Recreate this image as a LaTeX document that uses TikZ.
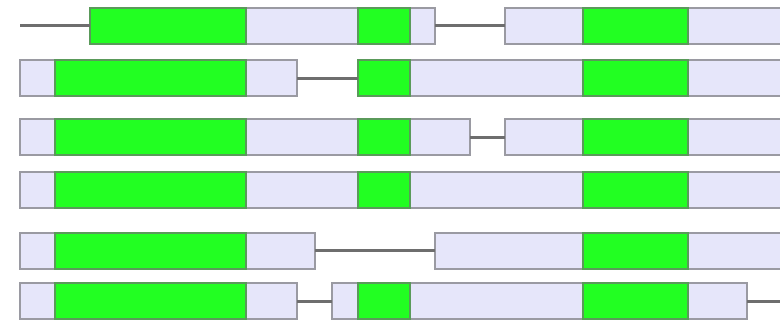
\documentclass[tikz,border=0pt]{standalone}
\usepackage{xcolor}

\definecolor{exongreen}{HTML}{22FF22}
\definecolor{exonedge}{HTML}{5A9A5A}
\definecolor{utrfill}{HTML}{E6E6FA}
\definecolor{utredge}{HTML}{9A9AA2}
\definecolor{introngray}{HTML}{6E6E6E}

\begin{document}
\begin{tikzpicture}[
  x=1pt, y=-1pt,
  box/.style={rectangle,anchor=west,inner sep=0pt,outer sep=0pt,minimum height=36pt,line width=2pt},
  cds/.style={box,fill=exongreen,draw=exonedge},
  utr/.style={box,fill=utrfill,draw=utredge},
  intron/.style={draw=introngray,line width=3pt}
]
  \clip (0,0) rectangle (780,320);
  % transcript 1
  \coordinate (a0) at (20,26);
  \node[utr,minimum width=112pt] (a2) at (246,26) {};
  \node[utr,minimum width=25pt] (a4) at (410,26) {};
  \node[utr,minimum width=78pt] (a5) at (505,26) {};
  \node[utr,minimum width=100pt] (a7) at (688,26) {};
  \node[cds,minimum width=156pt] (a1) at (90,26) {};
  \node[cds,minimum width=52pt] (a3) at (358,26) {};
  \node[cds,minimum width=105pt] (a6) at (583,26) {};
  \draw[intron] (a0) -- (a1);
  \draw[intron] (a4) -- (a5);
  % transcript 2
  \node[utr,minimum width=35pt] (b1) at (20,78.5) {};
  \node[utr,minimum width=51pt] (b3) at (246,78.5) {};
  \node[utr,minimum width=173pt] (b5) at (410,78.5) {};
  \node[utr,minimum width=100pt] (b7) at (688,78.5) {};
  \node[cds,minimum width=191pt] (b2) at (55,78.5) {};
  \node[cds,minimum width=52pt] (b4) at (358,78.5) {};
  \node[cds,minimum width=105pt] (b6) at (583,78.5) {};
  \draw[intron] (b3) -- (b4);
  % transcript 3
  \node[utr,minimum width=35pt] (c1) at (20,137.5) {};
  \node[utr,minimum width=112pt] (c3) at (246,137.5) {};
  \node[utr,minimum width=60pt] (c5) at (410,137.5) {};
  \node[utr,minimum width=78pt] (c6) at (505,137.5) {};
  \node[utr,minimum width=100pt] (c8) at (688,137.5) {};
  \node[cds,minimum width=191pt] (c2) at (55,137.5) {};
  \node[cds,minimum width=52pt] (c4) at (358,137.5) {};
  \node[cds,minimum width=105pt] (c7) at (583,137.5) {};
  \draw[intron] (c5) -- (c6);
  % transcript 4
  \node[utr,minimum width=35pt] (d1) at (20,190) {};
  \node[utr,minimum width=112pt] (d3) at (246,190) {};
  \node[utr,minimum width=173pt] (d5) at (410,190) {};
  \node[utr,minimum width=100pt] (d7) at (688,190) {};
  \node[cds,minimum width=191pt] (d2) at (55,190) {};
  \node[cds,minimum width=52pt] (d4) at (358,190) {};
  \node[cds,minimum width=105pt] (d6) at (583,190) {};
  % transcript 5
  \node[utr,minimum width=35pt] (e1) at (20,251) {};
  \node[utr,minimum width=69pt] (e3) at (246,251) {};
  \node[utr,minimum width=148pt] (e4) at (435,251) {};
  \node[utr,minimum width=100pt] (e6) at (688,251) {};
  \node[cds,minimum width=191pt] (e2) at (55,251) {};
  \node[cds,minimum width=105pt] (e5) at (583,251) {};
  \draw[intron] (e3) -- (e4);
  % transcript 6
  \node[utr,minimum width=35pt] (f1) at (20,301.5) {};
  \node[utr,minimum width=51pt] (f3) at (246,301.5) {};
  \node[utr,minimum width=26pt] (f4) at (332,301.5) {};
  \node[utr,minimum width=173pt] (f6) at (410,301.5) {};
  \node[utr,minimum width=59pt] (f8) at (688,301.5) {};
  \node[cds,minimum width=191pt] (f2) at (55,301.5) {};
  \node[cds,minimum width=52pt] (f5) at (358,301.5) {};
  \node[cds,minimum width=105pt] (f7) at (583,301.5) {};
  \coordinate (f9) at (790,301.5);
  \draw[intron] (f3) -- (f4);
  \draw[intron] (f8) -- (f9);
\end{tikzpicture}
\end{document}
